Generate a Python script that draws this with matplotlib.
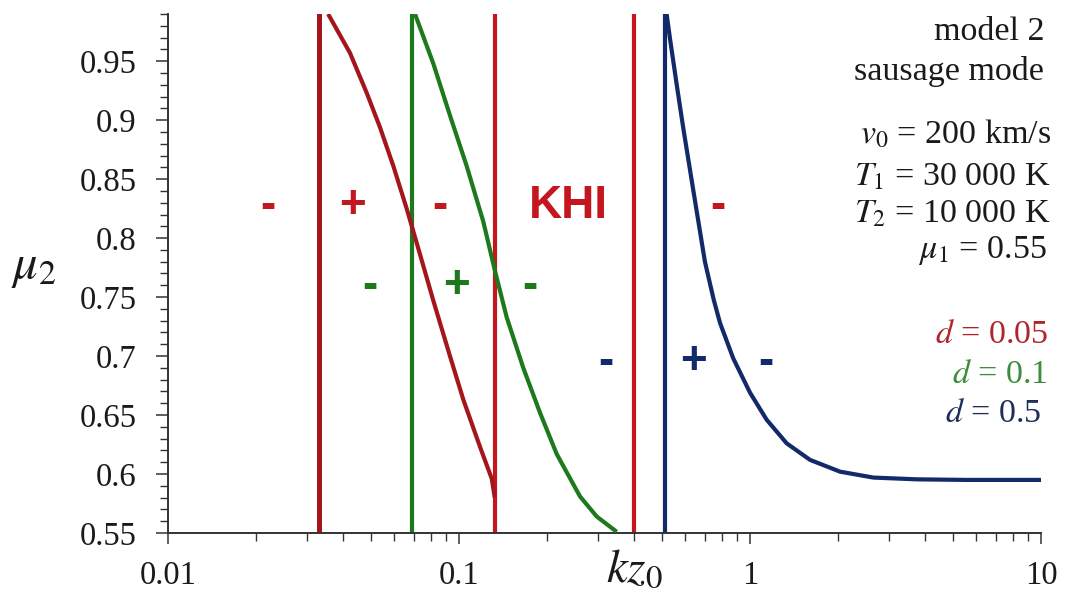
import matplotlib
matplotlib.use('Agg')
import matplotlib.pyplot as plt
from matplotlib.ticker import FixedLocator, NullFormatter, FixedFormatter

plt.rcParams['mathtext.fontset'] = 'stix'
plt.rcParams['font.family'] = ['Liberation Serif', 'DejaVu Serif']

# ---------------- data ----------------
kz_red = [0.0355, 0.0422, 0.0482, 0.0535, 0.0595, 0.0661, 0.0735, 0.0816,
          0.0931, 0.1035, 0.1181, 0.1296, 0.1327]
mu_red = [0.990, 0.957, 0.923, 0.894, 0.861, 0.825, 0.786, 0.747,
          0.700, 0.663, 0.623, 0.596, 0.580]

kz_green = [0.0706, 0.0816, 0.0931, 0.1063, 0.1212, 0.1327, 0.1458, 0.1663,
            0.1898, 0.2166, 0.2605, 0.2973, 0.3483]
mu_green = [0.990, 0.948, 0.904, 0.861, 0.814, 0.773, 0.733, 0.690,
            0.652, 0.617, 0.581, 0.564, 0.551]

kz_blue = [0.517, 0.531, 0.560, 0.590, 0.639, 0.700, 0.750, 0.789, 0.876, 1.0,
           1.141, 1.337, 1.608, 2.039, 2.653, 3.740, 5.555, 10.0]
mu_blue = [0.990, 0.969, 0.930, 0.893, 0.840, 0.780, 0.748, 0.728, 0.698, 0.669,
           0.646, 0.626, 0.612, 0.602, 0.597, 0.5955, 0.595, 0.595]

vlines_red_dark = [0.033]
vlines_red = [0.1327, 0.40]
vlines_green = [0.069]
vlines_blue = [0.51]

x_ticks = [0.01, 0.1, 1, 10]
x_ticklabels = ['0.01', '0.1', '1', '10']
y_ticks = [0.55, 0.6, 0.65, 0.7, 0.75, 0.8, 0.85, 0.9, 0.95]
y_ticklabels = ['0.55', '0.6', '0.65', '0.7', '0.75', '0.8', '0.85', '0.9', '0.95']

info_lines = ['model 2', 'sausage mode', r'$v_0$ = 200 km/s',
              r'$T_1$ = 30 000 K', r'$T_2$ = 10 000 K', r'$\mu_1$ = 0.55']
d_lines = [r'$d$ = 0.05', r'$d$ = 0.1', r'$d$ = 0.5']

# ---------------- style ----------------
c_red_dark = '#A3161C'
c_red = '#C4161E'
c_green = '#1C7A1C'
c_blue = '#12296A'
c_axis = '#333333'

W, H = 1069, 596
fig = plt.figure(figsize=(W / 100, H / 100), dpi=100)
ax = fig.add_axes([168 / W, 1 - 533 / H, (1041 - 168) / W, (533 - 14) / H])

ax.set_xscale('log')
ax.set_xlim(0.01, 10)
ax.set_ylim(0.55, 0.99)

for x in vlines_red_dark:
    ax.axvline(x, color=c_red_dark, lw=3.6, zorder=2)
for x in vlines_red:
    ax.axvline(x, color=c_red, lw=3.0, zorder=2)
for x in vlines_green:
    ax.axvline(x, color=c_green, lw=3.0, zorder=2)
for x in vlines_blue:
    ax.axvline(x, color=c_blue, lw=3.0, zorder=2)

line_kw = dict(lw=3.0, zorder=3, solid_capstyle='butt', solid_joinstyle='round')
ax.plot(kz_red, mu_red, color=c_red_dark, **line_kw)
ax.plot(kz_green, mu_green, color=c_green, **line_kw)
ax.plot(kz_blue, mu_blue, color=c_blue, **line_kw)

# spines / ticks
for s in ['top', 'right']:
    ax.spines[s].set_visible(False)
for s in ['left', 'bottom']:
    ax.spines[s].set_color(c_axis)
    ax.spines[s].set_linewidth(1.4)

ax.xaxis.set_major_locator(FixedLocator(x_ticks))
ax.xaxis.set_major_formatter(FixedFormatter(x_ticklabels))
minor_x = [m * 10.0 ** e for e in (-2, -1, 0) for m in range(2, 10)]
ax.xaxis.set_minor_locator(FixedLocator(minor_x))
ax.xaxis.set_minor_formatter(NullFormatter())

ax.yaxis.set_major_locator(FixedLocator(y_ticks))
ax.yaxis.set_major_formatter(FixedFormatter(y_ticklabels))
ax.yaxis.set_minor_locator(FixedLocator([0.55 + 0.01 * i for i in range(45)]))

ax.tick_params(axis='both', which='major', direction='out', color=c_axis,
               width=1.1, labelsize=23.5, labelcolor='#1a1a1a')
ax.tick_params(axis='x', which='major', length=8, pad=12)
ax.tick_params(axis='x', which='minor', length=5.5, width=1.0, color=c_axis)
ax.tick_params(axis='y', which='major', length=8.5, pad=14)
ax.tick_params(axis='y', which='minor', length=6, width=1.0, color=c_axis)

# region signs
sign_font = dict(family='Liberation Sans', fontweight='bold', fontsize=33,
                 ha='center', va='center', zorder=4)
red_signs = [(0.0221, '-'), (0.0432, '+'), (0.086, '-'), (0.777, '-')]
for x, s in red_signs:
    ax.text(x, 0.827, s, color=c_red, **sign_font)
ax.text(0.237, 0.827, 'KHI', color=c_red, **sign_font)
green_signs = [(0.0495, '-'), (0.0977, '+'), (0.1754, '-')]
for x, s in green_signs:
    ax.text(x, 0.759, s, color=c_green, **sign_font)
blue_signs = [(0.32, '-'), (0.637, '+'), (1.135, '-')]
for x, s in blue_signs:
    ax.text(x, 0.695, s, color=c_blue, **sign_font)

# axis labels
fig.text(34 / W, 1 - 268 / H, r'$\mu_2$', fontsize=35, ha='center', va='center',
         color='#1a1a1a')
fig.text(634 / W, 1 - 570 / H, r'$kz_0$', fontsize=34, ha='center', va='center',
         color='#1a1a1a')

# annotation text at right
info_baselines = [40, 80, 143, 185, 222, 258]
info_right = [1044, 1044, 1051, 1051, 1051, 1047]
for txt, yb, xr in zip(info_lines, info_baselines, info_right):
    fig.text(xr / W, 1 - yb / H, txt, fontsize=24.5, ha='right',
             va='baseline', color='#1a1a1a')
d_colors = ['#B0242A', '#3C8C3C', '#1E2E5C']
d_baselines = [343, 383, 422]
d_right = [1048, 1048, 1041]
for txt, yb, c, xr in zip(d_lines, d_baselines, d_colors, d_right):
    fig.text(xr / W, 1 - yb / H, txt, fontsize=24.5, ha='right',
             va='baseline', color=c)

fig.savefig('out.png', dpi=100)
